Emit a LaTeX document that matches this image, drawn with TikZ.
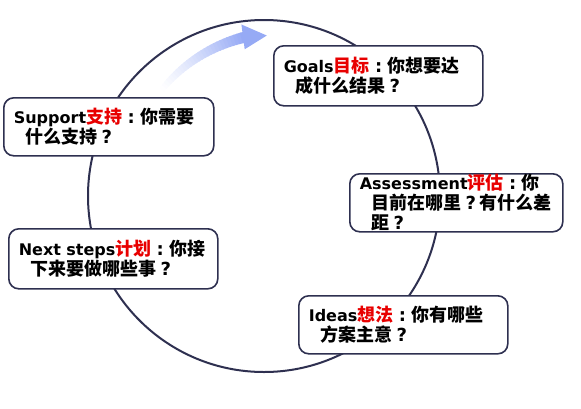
\documentclass[tikz,border=0pt]{standalone}
\usepackage{fontspec}
\setmainfont{DejaVu Sans}
\newfontfamily\cjk{Noto Sans CJK SC}
\usetikzlibrary{calc}

\definecolor{ringnavy}{RGB}{46,48,80}
\definecolor{arrowblue}{RGB}{150,170,245}
\definecolor{labelred}{RGB}{232,0,0}

\newcommand{\zh}[1]{{\cjk\fontsize{18}{20}\selectfont #1}}
\newcommand{\hl}[1]{\textcolor{labelred}{\zh{#1}}}
\newcommand{\ind}{\hspace*{12pt}}
\newcommand{\cc}{\makebox[18pt][c]{\fontsize{18}{20}\selectfont :}}
\newcommand{\qq}{\makebox[18pt][c]{\fontsize{18}{20}\selectfont ?}}

\begin{document}
\begin{tikzpicture}[x=1pt, y=1pt,
    card/.style={draw=ringnavy, line width=1.6pt, fill=white, rounded corners=10pt,
      anchor=north west, inner xsep=10pt, inner ysep=0pt, align=left,
      font=\fontsize{16}{20}\selectfont\bfseries}]
      % Sizes
      \def\R{176}   % ring radius
      \useasboundingbox (0,0) rectangle (581,-408);
      \coordinate (C) at (264,-196);

      % Ring
      \draw[ringnavy, line width=2pt] (C) circle[radius=\R pt];

      % Fading arrow along the inside of the ring
      \foreach \i in {0,...,29}{
        \pgfmathsetmacro\aa{135-\i*1.27}
        \pgfmathsetmacro\ab{\aa-1.6}
        \pgfmathsetmacro\ra{147+\i*13/30}
        \pgfmathsetmacro\rb{\ra+0.6}
        \pgfmathsetmacro\p{100*(\i/29)^1.3}
        \pgfmathsetmacro\w{6+\i*5/29}
        \draw[arrowblue!\p!white, line width=\w pt] ($(C)+(\aa:\ra)$) -- ($(C)+(\ab:\rb)$);
      }
      \fill[arrowblue] ($(C)+(97.5:148)$) -- ($(C)+(89:160.5)$) -- ($(C)+(97.5:173)$) -- cycle;

      % Cards
      \node[card, minimum width=209pt, minimum height=60pt, text width=189pt] (goals) at (273,-45)
        {Goals\hl{目标}\cc\zh{你想要达}\\\ind\zh{成什么结果}\qq};
      \node[card, minimum width=210pt, minimum height=58pt, text width=190pt] (support) at (3,-97)
        {Support\hl{支持}\cc\zh{你需要}\\\ind\zh{什么支持}\qq};
      \node[card, minimum width=213pt, minimum height=58pt, text width=193pt] (assess) at (349,-173)
        {Assessment\hl{评估}\cc\zh{你}\\\ind\zh{目前在哪里}\qq\zh{有什么差}\\\ind\zh{距}\qq};
      \node[card, minimum width=209pt, minimum height=60pt, text width=189pt] (next) at (8,-228)
        {Next steps\hl{计划}\cc\zh{你接}\\\ind\zh{下来要做哪些事}\qq};
      \node[card, minimum width=209pt, minimum height=58pt, text width=189pt] (ideas) at (298,-295)
        {Ideas\hl{想法}\cc\zh{你有哪些}\\\ind\zh{方案主意}\qq};
    \end{tikzpicture}
\end{document}
